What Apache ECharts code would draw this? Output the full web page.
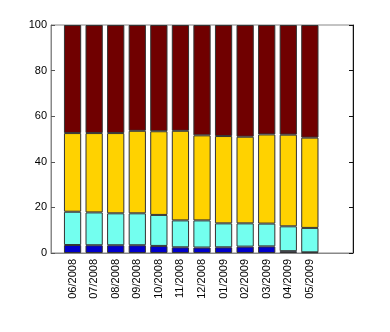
<!DOCTYPE html>
<html>
<head>
<meta charset="utf-8">
<script src="https://cdn.jsdelivr.net/npm/echarts@6/dist/echarts.min.js"></script>
<style>
  html, body { margin: 0; padding: 0; background: #fff; }
  #chart { width: 390px; height: 332px; }
</style>
</head>
<body>
<div id="chart"></div>
<script>
// 月份
var months = ['06/2008', '07/2008', '08/2008', '09/2008', '10/2008', '11/2008',
  '12/2008', '01/2009', '02/2009', '03/2009', '04/2009', '05/2009'];
// 各段百分比（从下往上）
var blueVals = [3.5, 3.4, 3.4, 3.4, 3.1, 2.5, 2.4, 2.5, 2.8, 2.9, 0.8, 0.3];
var cyanVals = [14.6, 14.4, 14.0, 14.0, 13.6, 11.8, 11.9, 10.5, 10.2, 10.0, 10.9, 10.7];
var goldVals = [34.5, 34.8, 35.2, 36.2, 36.7, 39.3, 37.3, 38.3, 38.0, 39.1, 40.2, 39.6];
var redVals = [47.4, 47.4, 47.4, 46.4, 46.6, 46.4, 48.4, 48.7, 49.0, 48.0, 48.1, 49.4];
var yTicks = [0, 20, 40, 60, 80, 100];

// x轴两侧留空位（左一格，右两格）
var cats = [''].concat(months, ['', '']);
function pad(arr) {
  return ['-'].concat(arr, ['-', '-']);
}

var colors = ['#0000cc', '#73ffef', '#ffd200', '#700000'];
var seriesData = [blueVals, cyanVals, goldVals, redVals];

var chart = echarts.init(document.getElementById('chart'));
chart.setOption({
  animation: false,
  grid: {
    left: 51,
    top: 25,
    right: 37,
    bottom: 79,
    show: true,
    borderColor: '#888',
    borderWidth: 1
  },
  xAxis: {
    type: 'category',
    data: cats,
    boundaryGap: false,
    axisLine: { lineStyle: { color: '#888', width: 1 } },
    axisTick: { show: false },
    axisLabel: {
      rotate: 90,
      interval: 0,
      margin: 6,
      color: '#000',
      fontSize: 11,
      fontFamily: 'Liberation Sans, Arial, sans-serif'
    },
    splitLine: { show: false }
  },
  yAxis: [
    {
      type: 'value',
      min: yTicks[0],
      max: yTicks[yTicks.length - 1],
      interval: 20,
      axisLine: { show: true, lineStyle: { color: '#888', width: 1 } },
      axisTick: { show: true, inside: true, length: 4, lineStyle: { color: '#555' } },
      axisLabel: {
        color: '#000',
        fontSize: 11,
        margin: 4,
        fontFamily: 'Liberation Sans, Arial, sans-serif'
      },
      splitLine: { show: false }
    },
    {
      type: 'value',
      position: 'right',
      min: yTicks[0],
      max: yTicks[yTicks.length - 1],
      interval: 20,
      axisLine: { show: true, lineStyle: { color: '#111', width: 1 } },
      axisTick: { show: true, inside: true, length: 4, lineStyle: { color: '#111' } },
      axisLabel: { show: false },
      splitLine: { show: false }
    }
  ],
  series: seriesData.map(function (vals, i) {
    return {
      type: 'bar',
      stack: 'total',
      barWidth: '80%',
      data: pad(vals),
      itemStyle: {
        color: colors[i],
        borderColor: '#333',
        borderWidth: 1
      }
    };
  })
});
</script>
</body>
</html>
